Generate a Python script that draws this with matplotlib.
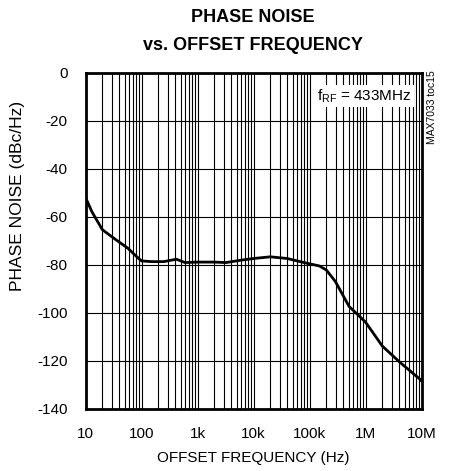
import matplotlib.pyplot as plt
import numpy as np

plt.rcParams['font.family'] = ['Liberation Sans', 'DejaVu Sans']

# phase noise curve (Hz, dBc/Hz)
freq = [10, 13, 20, 35, 57, 80, 100, 150, 250, 420, 600, 1000, 2000, 3200,
        6000, 10e3, 20e3, 40e3, 80e3, 150e3, 200e3, 290e3, 510e3, 670e3,
        1e6, 2e6, 4e6, 9.6e6, 10e6]
noise = [-52, -58, -65.5, -69.7, -73.2, -76.5, -78.5, -78.8, -78.8, -77.8,
         -79.2, -79.0, -79.0, -79.2, -78.2, -77.5, -76.8, -77.5, -79.2,
         -80.6, -82.3, -87.1, -97.5, -100.1, -104.0, -114.0, -120.5,
         -128.0, -128.5]

xticks = [10, 100, 1e3, 1e4, 1e5, 1e6, 1e7]
xlabels = ['10', '100', '1k', '10k', '100k', '1M', '10M']
yticks = [0, -20, -40, -60, -80, -100, -120, -140]

fig = plt.figure(figsize=(4.51, 4.71), dpi=100)
ax = fig.add_axes([85.5 / 451, 1 - 408.5 / 471, 336 / 451, 336 / 471])

ax.set_xscale('log')
ax.set_xlim(10, 1e7)
ax.set_ylim(-140, 0)

# grid: every minor decade line, and 20 dB horizontal lines
for dec in range(1, 7):
    for m in range(1, 10):
        ax.axvline(m * 10 ** dec, color='black', lw=0.8, zorder=1)
for y in yticks:
    ax.axhline(y, color='black', lw=0.8, zorder=1)

ax.plot(freq, noise, color='black', lw=2, zorder=3)

ax.set_xticks(xticks)
ax.set_xticklabels(xlabels)
ax.set_xticks([], minor=True)
ax.set_yticks(yticks)
ax.set_yticklabels([str(v) for v in yticks])
ax.tick_params(length=0, labelsize=11, pad=13)
ax.tick_params(axis='y', pad=13)

for s in ax.spines.values():
    s.set_linewidth(2)

fig.text(253 / 451, 1 - 458 / 471, 'OFFSET FREQUENCY (Hz)', ha='center',
         va='center', fontsize=11)
fig.text(18 / 451, 1 - 196 / 471, 'PHASE NOISE (dBc/Hz)', ha='center',
         va='center', rotation=90, fontsize=12.5)

fig.text(253 / 451, 1 - 18 / 471, 'PHASE NOISE', ha='center', va='center',
         fontsize=13, fontweight='bold')
fig.text(253 / 451, 1 - 45 / 471, 'vs. OFFSET FREQUENCY', ha='center',
         va='center', fontsize=13, fontweight='bold')

ax.text(0.97, 0.955, r'f$_{\mathregular{RF}}$ = 433MHz', transform=ax.transAxes,
        ha='right', va='top', fontsize=11, zorder=4,
        bbox=dict(facecolor='white', edgecolor='none', pad=1.5))

fig.text(432 / 451, 1 - 107 / 471, 'MAX7033 toc15', rotation=90, ha='center',
         va='center', fontsize=7.5)

fig.savefig('out.png', dpi=100)
